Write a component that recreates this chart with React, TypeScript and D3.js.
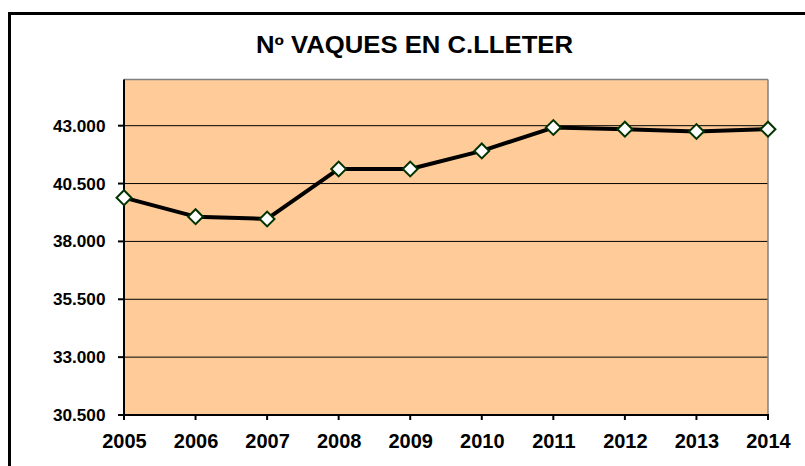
import React from "react";
import * as d3 from "d3";

const years = ["2005", "2006", "2007", "2008", "2009", "2010", "2011", "2012", "2013", "2014"];
const cows = [39890, 39070, 38970, 41130, 41130, 41910, 42920, 42850, 42750, 42850];
const yTicks = [30500, 33000, 35500, 38000, 40500, 43000];
const title = "Nº VAQUES EN C.LLETER";

const W = 805;
const H = 466;
const plot = { left: 124, right: 768, top: 79.4, bottom: 415 };

export default function App() {
  const x = d3.scalePoint<string>().domain(years).range([plot.left, plot.right]);
  const y = d3.scaleLinear().domain([30500, 45000]).range([plot.bottom, plot.top]);
  const fmt = (v: number) => d3.format(",.3f")(v / 1000).replace(",", "");
  const line = d3
    .line<number>()
    .x((_, i) => x(years[i]) as number)
    .y((d) => y(d));
  const marker = d3.symbol().type(d3.symbolSquare).size(110)();

  return (
    <svg
      width={W}
      height={H}
      style={{ position: "absolute", left: 0, top: 0, background: "#fff" }}
      fontFamily="'Liberation Sans', Arial, sans-serif"
    >
      <rect x={9.5} y={13.5} width={820} height={480} fill="#fff" stroke="#000" strokeWidth={3} />
      <text
        x={414.5}
        y={52.7}
        textAnchor="middle"
        fontSize={23}
        fontWeight="bold"
        textLength={317}
        lengthAdjust="spacingAndGlyphs"
      >
        {title}
      </text>
      <rect
        x={plot.left}
        y={plot.top}
        width={plot.right - plot.left}
        height={plot.bottom - plot.top}
        fill="#FFCC99"
      />
      {yTicks.slice(1).map((t) => (
        <line key={t} x1={plot.left} x2={plot.right} y1={y(t)} y2={y(t)} stroke="#000" strokeWidth={1} />
      ))}
      <line x1={plot.left} x2={plot.right} y1={plot.top} y2={plot.top} stroke="#808080" strokeWidth={1.5} />
      <line x1={plot.right} x2={plot.right} y1={plot.top} y2={plot.bottom} stroke="#808080" strokeWidth={1.5} />
      <line x1={plot.left} x2={plot.left} y1={plot.top} y2={plot.bottom + 1} stroke="#000" strokeWidth={2} />
      <line x1={plot.left - 1} x2={plot.right + 1} y1={plot.bottom} y2={plot.bottom} stroke="#000" strokeWidth={2} />
      {yTicks.map((t) => (
        <g key={t}>
          <line x1={plot.left - 6} x2={plot.left} y1={y(t)} y2={y(t)} stroke="#000" strokeWidth={2} />
          <text x={105.5} y={y(t) + 6} textAnchor="end" fontSize={17.2} fontWeight="bold">
            {fmt(t)}
          </text>
        </g>
      ))}
      {years.map((yr) => (
        <g key={yr}>
          <line x1={x(yr)} x2={x(yr)} y1={plot.bottom} y2={plot.bottom + 5} stroke="#000" strokeWidth={2} />
          <text x={(x(yr) as number) + 0.5} y={447.7} textAnchor="middle" fontSize={20} fontWeight="bold">
            {yr}
          </text>
        </g>
      ))}
      <path d={line(cows) || ""} fill="none" stroke="#000" strokeWidth={4} strokeLinejoin="round" />
      {cows.map((v, i) => (
        <path
          key={i}
          d={marker || ""}
          transform={`translate(${x(years[i])},${y(v)}) rotate(45)`}
          fill="#fff"
          stroke="#003300"
          strokeWidth={2}
        />
      ))}
    </svg>
  );
}
